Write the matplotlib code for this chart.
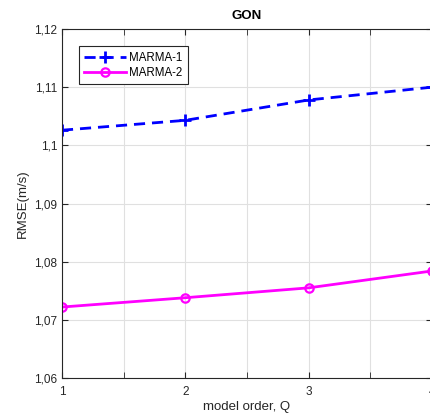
import matplotlib
matplotlib.use("Agg")
import matplotlib.pyplot as plt
from matplotlib.ticker import FuncFormatter, MultipleLocator

plt.rcParams['font.family'] = ['Liberation Sans', 'DejaVu Sans']

Q = [1, 2, 3, 4]
marma1 = [1.1026, 1.1043, 1.1078, 1.1100]
marma2 = [1.0722, 1.0738, 1.0755, 1.0784]

fig = plt.figure(figsize=(4.30, 4.19), dpi=100)
ax = fig.add_axes([62 / 430, 41 / 419, 370 / 430, 349 / 419])

ax.plot(Q, marma1, '--', color='blue', marker='+', markersize=9, mew=2, lw=2,
        dashes=(4, 2.5), label='MARMA-1')
ax.plot(Q, marma2, '-', color='magenta', marker='o', markersize=6, mew=1.6,
        mfc='none', lw=2, label='MARMA-2')

ax.set_xlim(1, 4)
ax.set_ylim(1.06, 1.12)
ax.xaxis.set_major_locator(MultipleLocator(1))
ax.xaxis.set_minor_locator(MultipleLocator(0.5))
ax.yaxis.set_major_locator(MultipleLocator(0.01))
ax.yaxis.set_major_formatter(FuncFormatter(lambda v, p: ('%g' % round(v, 4)).replace('.', ',')))
ax.grid(True, which='both', color='#e0e0e0', lw=0.8)
ax.set_axisbelow(True)
ax.tick_params(which='both', direction='in', top=True, right=True, labelsize=8.5,
               colors='#262626', length=4)
ax.tick_params(axis='x', pad=6)
for s in ax.spines.values():
    s.set_color('#262626')

ax.set_title('GON', fontsize=9.5, fontweight='bold', pad=7)
ax.set_xlabel('model order, Q', fontsize=9.5, color='#262626', labelpad=2)
ax.set_ylabel('RMSE(m/s)', fontsize=9.5, color='#262626', labelpad=4)
leg = ax.legend(loc='upper left', bbox_to_anchor=(0.046, 0.95), fontsize=8.3, fancybox=False,
                edgecolor='#262626', framealpha=1, borderpad=0.45, labelspacing=0.3,
                handlelength=3.6, handletextpad=0.3, borderaxespad=0)
leg.get_frame().set_linewidth(0.8)

fig.savefig('out.png', dpi=100)
